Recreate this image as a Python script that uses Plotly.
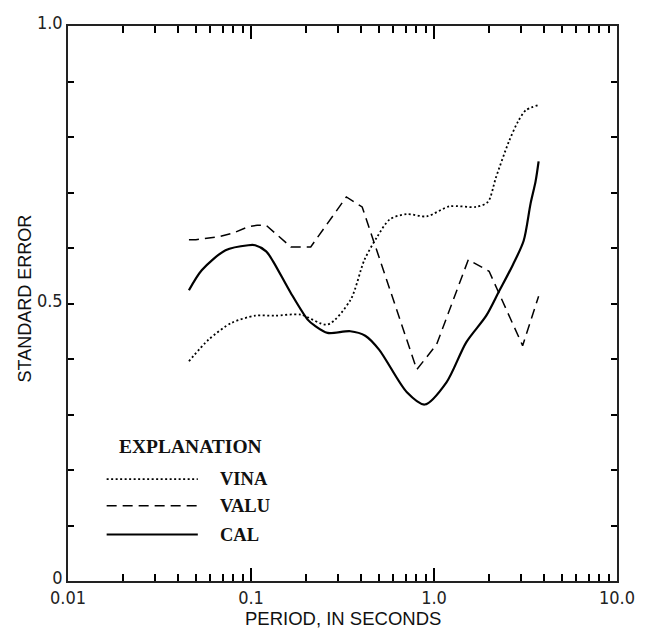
import plotly.graph_objects as go

# Standard error versus spectral period for three models
period_vina = [0.0458, 0.0587, 0.0782, 0.1054, 0.1354, 0.187, 0.262, 0.349, 0.416, 0.489,
               0.575, 0.711, 0.912, 1.215, 1.70, 1.97, 2.18, 2.56, 2.87, 3.17, 3.68]
err_vina = [0.396, 0.435, 0.465, 0.478, 0.478, 0.480, 0.462, 0.506, 0.578, 0.620,
            0.652, 0.661, 0.657, 0.675, 0.674, 0.683, 0.727, 0.791, 0.827, 0.848, 0.857]

period_valu = [0.0458, 0.050, 0.0665, 0.080, 0.096, 0.108, 0.121, 0.135, 0.165, 0.212,
               0.332, 0.405, 0.805, 1.033, 1.54, 2.0, 3.05, 3.73]
err_valu = [0.615, 0.615, 0.620, 0.627, 0.638, 0.641, 0.641, 0.627, 0.602, 0.602,
            0.692, 0.674, 0.381, 0.426, 0.579, 0.558, 0.424, 0.513]

period_cal = [0.0458, 0.0538, 0.0726, 0.0967, 0.1054, 0.121, 0.132, 0.165, 0.204, 0.223,
              0.262, 0.349, 0.421, 0.501, 0.711, 0.889, 1.17, 1.50, 1.93, 2.26, 2.70,
              3.09, 3.37, 3.59, 3.73]
err_cal = [0.524, 0.560, 0.596, 0.605, 0.605, 0.594, 0.576, 0.519, 0.471, 0.460,
           0.447, 0.450, 0.442, 0.417, 0.340, 0.318, 0.358, 0.430, 0.478, 0.521, 0.570,
           0.613, 0.680, 0.720, 0.756]

series_names = ["VINA", "VALU", "CAL"]
series_dash = ["2px,2.5px", "10px,6px", "solid"]
series_width = [1.8, 1.5, 2.2]

x_major = [0.01, 0.1, 1.0, 10.0]
x_major_text = ["0.01", "0.1", "1.0", "10.0"]
x_minor = [m * d for d in (0.01, 0.1, 1.0) for m in range(2, 10)]
y_ticks = [i / 10 for i in range(11)]
y_tick_text = ["0", "", "", "", "", "0.5", "", "", "", "", "1.0"]

W, H = 647, 629
L, R, T, B = 68, 25, 20, 48
PW, PH = W - L - R, H - T - B

def px(x):
    return (x - L) / PW

def py(y):
    return (H - B - y) / PH

fig = go.Figure()
for xs, ys, name, dash, w in zip(
        [period_vina, period_valu, period_cal],
        [err_vina, err_valu, err_cal],
        series_names, series_dash, series_width):
    shape = "linear" if name == "VALU" else "spline"
    fig.add_trace(go.Scatter(
        x=xs, y=ys, mode="lines", name=name, showlegend=False,
        line=dict(color="black", width=w, dash=dash, shape=shape, smoothing=0.8),
    ))

# invisible trace so the overlay axis carrying the long decade ticks is drawn
fig.add_trace(go.Scatter(x=[x_major[1]], y=[0.5], xaxis="x2", mode="markers",
                         marker=dict(opacity=0), showlegend=False, hoverinfo="skip"))

tick_font = dict(family="Liberation Sans Narrow, DejaVu Sans Condensed, Liberation Sans",
                 size=18, color="#222")
all_x_ticks = sorted(x_major + x_minor)
all_x_text = [x_major_text[x_major.index(v)] if v in x_major else "" for v in all_x_ticks]

fig.update_layout(
    xaxis=dict(
        type="log", range=[-2, 1], tickvals=all_x_ticks, ticktext=all_x_text,
        ticks="inside", ticklen=7, tickwidth=1.5, tickcolor="black",
        showline=True, linecolor="#222", linewidth=1.5, mirror="ticks",
        showgrid=False, tickfont=tick_font,
    ),
    xaxis2=dict(
        type="log", range=[-2, 1], overlaying="x", anchor="y", side="bottom",
        tickvals=x_major, ticks="inside", ticklen=13, tickwidth=1.5, tickcolor="black",
        showticklabels=False, showline=False, mirror="ticks", showgrid=False,
    ),
    yaxis=dict(
        range=[0, 1], tickvals=y_ticks, ticktext=y_tick_text,
        ticks="inside", ticklen=6, tickwidth=1.5, tickcolor="black",
        showline=True, linecolor="#222", linewidth=1.5, mirror="ticks",
        showgrid=False, zeroline=False, tickfont=tick_font, ticklabelshift=-3,
    ),
)

title_font = dict(family="Liberation Sans, Arial", size=18, color="#111")
annotations = [
    dict(text="PERIOD, IN SECONDS", x=0.5, y=py(619), xref="paper", yref="paper",
         showarrow=False, font=dict(title_font, size=18.5), xanchor="center", yanchor="middle"),
    dict(text="STANDARD ERROR", x=px(25), y=py(295), xref="paper", yref="paper",
         showarrow=False, textangle=-90, font=title_font, xanchor="center", yanchor="middle"),
]

# Explanation block
serif = dict(family="Liberation Serif, Times New Roman, serif", size=18.5, color="#111")
annotations.append(dict(text="<b>EXPLANATION</b>", x=px(117), y=py(445), xref="paper",
                        yref="paper", showarrow=False, font=dict(serif, size=19.5),
                        xanchor="left", yanchor="middle"))
key_y = [478, 505, 534]
shapes = []
for name, dash, w, ky in zip(series_names, series_dash, series_width, key_y):
    shapes.append(dict(type="line", xref="paper", yref="paper",
                       x0=px(107), x1=px(199), y0=py(ky), y1=py(ky),
                       line=dict(color="black", width=w, dash=dash)))
    annotations.append(dict(text="<b>%s</b>" % name, x=px(219), y=py(ky), xref="paper",
                            yref="paper", showarrow=False, font=serif,
                            xanchor="left", yanchor="middle"))

fig.update_layout(
    width=W, height=H, margin=dict(l=L, r=R, t=T, b=B),
    paper_bgcolor="white", plot_bgcolor="white",
    annotations=annotations, shapes=shapes, showlegend=False,
)

fig.write_html("out.html")
